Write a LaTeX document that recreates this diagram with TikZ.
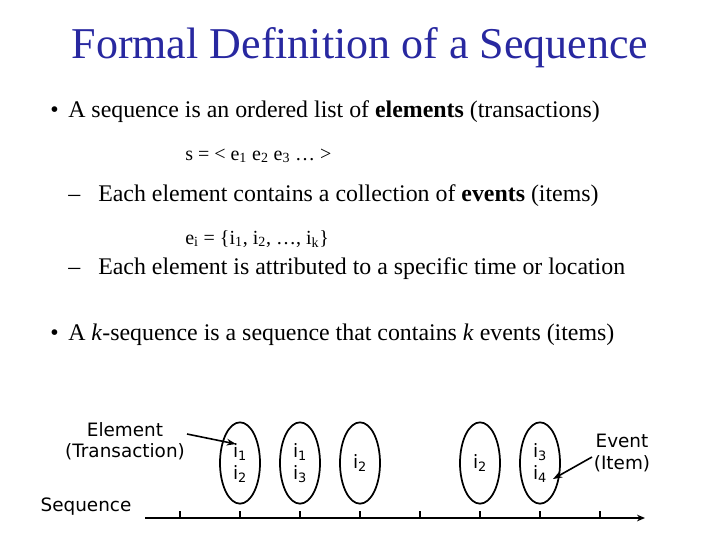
\documentclass[tikz,border=0pt]{standalone}
\usepackage{fontspec}
\setmainfont{Liberation Serif}
\newfontfamily\vfont{DejaVu Sans}
\usetikzlibrary{arrows.meta,shapes.geometric}
\definecolor{titleblue}{RGB}{40,40,160}
\begin{document}
\begin{tikzpicture}[x=0.75pt,y=-0.75pt,
  body/.style={anchor=base west,inner sep=0pt,font=\fontsize{17.9}{20}\selectfont},
  small/.style={anchor=base west,inner sep=0pt,font=\fontsize{15}{17}\selectfont},
  lab/.style={font=\vfont\fontsize{13.8}{16}\selectfont,align=center,inner sep=0pt},
  elem/.style={draw,line width=1.3pt,ellipse,minimum width=30pt,minimum height=61pt,inner sep=0pt,font=\vfont\fontsize{13.8}{16}\selectfont,align=center},
  arr/.style={-{Stealth[length=7pt,width=5pt]},line width=1.2pt}]
\useasboundingbox (0,0) rectangle (720,540);
\node[font=\fontsize{33}{37}\selectfont,text=titleblue,inner sep=0pt] (title) at (360,48) {Formal Definition of a Sequence};
\node[body] (b1) at (50,117) {•};
\node[body] (t1) at (68,117) {A sequence is an ordered list of \textbf{elements} (transactions)};
\node[small] (s) at (185,160) {s = < e\textsubscript{1} e\textsubscript{2} e\textsubscript{3} … >};
\node[body] (d1) at (68,201) {–};
\node[body] (t2) at (98,201) {Each element contains a collection of \textbf{events} (items)};
\node[small] (ei) at (185,244) {e\textsubscript{i} = \{i\textsubscript{1}, i\textsubscript{2}, …, i\textsubscript{k}\}};
\node[body] (d2) at (68,274) {–};
\node[body] (t3) at (98,274) {Each element is attributed to a specific time or location};
\node[body] (b2) at (50,340) {•};
\node[body] (t4) at (68,340) {A \textit{k}-sequence is a sequence that contains \textit{k} events (items)};
% axis
\coordinate (a0) at (145,518);
\coordinate (a1) at (645,518);
\draw[-{Stealth[length=6pt,width=5pt]},line width=1.3pt] (a0) -- (a1);
\foreach \x in {180,240,300,360,420,480,540,600} \draw[line width=1pt] (\x,518) -- (\x,511);
\node[elem] (e1) at (240,463) {i\textsubscript{1}\\i\textsubscript{2}};
\node[elem] (e2) at (300,463) {i\textsubscript{1}\\i\textsubscript{3}};
\node[elem] (e3) at (360,463) {i\textsubscript{2}};
\node[elem] (e4) at (480,463) {i\textsubscript{2}};
\node[elem] (e5) at (540,463) {i\textsubscript{3}\\i\textsubscript{4}};
\node[lab] (el) at (125,441) {Element\\(Transaction)};
\node[lab] (ev) at (622,453) {Event\\(Item)};
\node[lab] (sq) at (86,507) {Sequence};
\draw[arr] (187,434) -- (236,444);
\draw[arr] (592,457) -- (553,479);
\end{tikzpicture}
\end{document}
